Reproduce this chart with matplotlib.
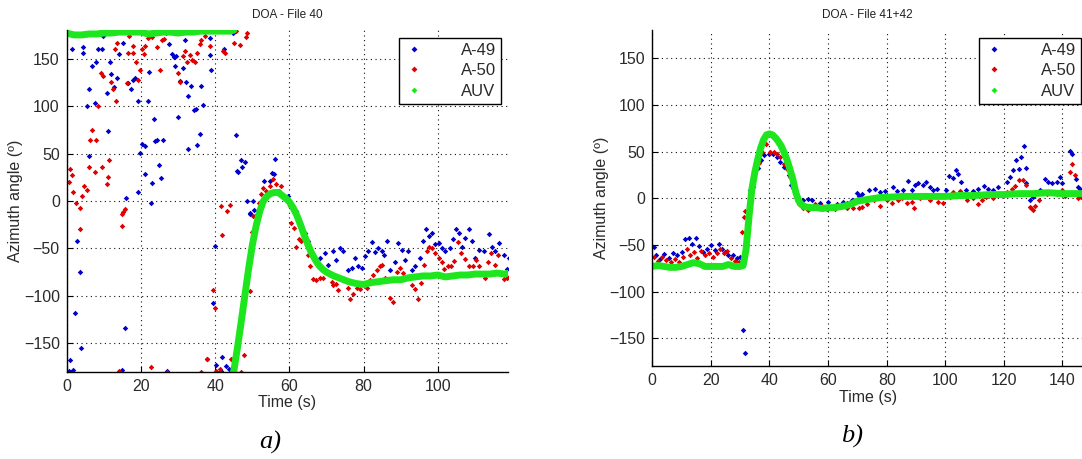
import numpy as np
import matplotlib
matplotlib.use("Agg")
import matplotlib.pyplot as plt
from matplotlib.lines import Line2D

plt.rcParams['font.family'] = ['Liberation Sans', 'DejaVu Sans']

# ---------------- data: panel a) DOA - File 40 ----------------
a49_a_t = [0.6,0.9,1.35,1.8,2.3,2.7,3.5,3.8,4.5,4.5,5.4,5.9,6.1,6.7,7.6,7.8,8.3,9.4,9.9,10.8,11.2,11.7,11.9,12.8,13.5,14.1,15.0,15.3,15.7,16.0,16.6,17.3,18.0,18.5,19.1,19.3,19.8,20.3,21.1,21.2,21.8,22.1,22.7,22.9,23.6,23.9,24.3,25.0,25.4,26.0,26.9,27.6,28.3,28.8,29.2,29.5,30.1,30.4,31.3,32.0,32.2,32.6,32.8,33.5,34.2,34.9,35.0,35.8,36.2,36.8,37.8,38.5,38.7,38.9,39.3,40.0,40.1,41.6,41.8,42.5,43.0,43.7,44.8,44.8,45.5,45.9,46.1,47.0,47.2,47.6,48.1,48.5,49.3,49.5,50.2,50.6,53.3,54.7,55.3,55.9,56.2,59.5,61.0,61.7,62.2,63.2,64.1,64.9,67.3,68.2,69.5,70.5,71.8,72.7,73.6,74.5,75.9,76.8,77.8,78.6,79.5,80.4,81.3,82.2,83.1,84.0,84.9,85.6,86.2,87.1,88.5,89.4,90.3,91.2,92.1,93.0,93.9,95.2,96.1,96.8,97.5,98.4,99.3,100.2,101.1,102.0,103.3,104.2,104.9,105.6,106.5,107.4,108.3,109.2,110.1,111.0,112.4,113.7,114.6,115.5,116.4,117.8,118.6,119.1]
a49_a_v = [-179,-168,160,-178,-118,-42,-75,-155,156,162,100,47,118,142,103,147,160,160,174,114,74,147,134,120,130,155,-178,167,-134,3,124,118,127,130,105,10,51,60,28,58,105,136,-2,19,86,63,64,38,24,64,-179,165,155,152,142,153,88,126,140,170,125,111,55,121,96,97,59,71,121,101,-167,172,154,138,-107,-47,-173,-179,-164,160,-174,-177,177,-166,70,32,31,43,36,-106,41,0,-14,-13,0,-10,21,21,29,28,44,5,-9,-11,-18,-25,-34,-42,-64,-60,-55,-67,-53,-62,-50,-53,-73,-71,-60,-69,-71,-58,-53,-43,-54,-50,-53,-57,-42,-73,-64,-44,-52,-62,-53,-73,-69,-60,-42,-29,-37,-34,-45,-44,-50,-53,-50,-40,-30,-34,-48,-39,-30,-42,-60,-52,-53,-35,-49,-53,-44,-57,-72,-60]

a50_a_t = [0.6,0.8,1.3,1.8,2.4,3.5,3.6,4.2,4.7,5.4,6.0,6.3,6.7,7.6,7.8,8.5,9.2,9.4,9.9,10.8,11.2,11.5,11.9,12.6,13.0,13.2,13.5,14.1,14.8,15.0,15.3,15.7,16.2,16.4,16.8,17.8,18.0,18.6,19.1,19.8,20.3,20.7,21.2,21.8,22.7,22.9,24.3,25.2,25.7,26.3,26.8,26.9,27.4,29.9,30.5,31.3,31.9,32.4,33.1,33.7,34.6,35.1,35.8,36.2,36.2,37.3,37.8,38.5,38.7,39.4,40.0,40.3,41.2,41.6,41.8,42.1,42.7,43.2,44.1,44.3,45.2,45.7,46.8,47.0,47.7,48.4,48.6,49.3,49.9,50.2,50.8,51.7,52.4,52.9,53.8,54.7,55.6,56.5,57.1,57.8,60.1,60.5,61.3,61.9,62.5,63.2,64.9,65.5,66.4,67.3,68.2,69.1,71.4,71.8,72.7,73.1,75.9,76.3,77.2,78.1,79.0,80.8,81.7,82.6,83.5,84.4,84.9,85.8,87.1,88.0,88.9,89.8,90.7,92.1,93.0,93.9,94.6,95.5,96.4,97.0,97.6,98.4,99.3,100.2,101.1,101.8,102.7,103.6,104.5,105.4,106.3,107.2,108.3,109.4,110.3,111.2,112.6,113.5,114.4,115.5,116.2,117.8,118.6,119.3]
a50_a_v = [20,34,27,9,-2,-7,-29,5,16,12,36,64,75,31,64,100,135,36,132,18,25,43,125,118,160,105,167,-179,-14,-26,-12,-8,124,156,174,156,163,147,128,138,160,155,163,172,-175,173,162,138,170,171,177,-180,179,135,125,153,158,147,154,149,147,156,165,170,-180,174,-167,179,163,-94,-113,-179,-177,-5,-36,158,156,-11,-4,-167,167,179,164,-180,-162,173,177,-95,-33,-16,-16,-2,7,14,11,16,23,18,11,16,-5,-23,-28,-48,-40,-42,-57,-69,-82,-83,-81,-81,-85,-89,-87,-94,-92,-103,-98,-92,-93,-92,-83,-78,-73,-69,-67,-81,-102,-106,-75,-71,-76,-81,-89,-93,-103,-86,-67,-53,-48,-50,-55,-60,-64,-72,-69,-69,-63,-43,-55,-61,-69,-69,-62,-69,-81,-64,-55,-67,-57,-82,-81,-80]

auv_a_t = [0,2,4,6,8,10,12,14,16,18,20,22,24,26,28,30,32,34,36,38,40,42,44,45,45,45,46,47,48,49,50,51,52,53,54,55,56,57,58,59,60,61,62,63,64,65,66,67,68,69,70,72,74,76,78,80,82,84,86,88,90,92,94,96,98,100,102,104,106,108,110,112,114,116,118,119]
auv_a_v = [177,175,175,176,176,177,177,178,178,178,178,176,177,178,178,177,178,178,179,179,179,179,179,180,np.nan,-180,-155,-128,-100,-72,-47,-27,-11,0,5,8,9,9,6,3,-1,-7,-15,-25,-36,-46,-55,-62,-68,-72,-75,-79,-82,-85,-87,-88,-86,-85,-84,-83,-83,-81,-80,-79,-79,-78,-80,-79,-78,-78,-77,-77,-77,-76,-77,-76]

# ---------------- data: panel b) DOA - File 41+42 ----------------
a49_b_t = [0.5,1.4,2.7,4.1,5.6,7.0,8.4,10.1,11.3,12.4,13.5,15.0,15.8,17.3,18.6,20.0,21.5,22.6,23.8,24.9,26.0,27.5,28.9,30.0,31.1,31.7,33.4,34.5,36.2,37.0,38.2,39.7,41.1,42.5,43.7,45.0,46.5,47.2,47.9,49.9,51.6,53.3,54.4,57.3,60.1,63.0,65.2,66.4,68.0,69.8,70.4,71.5,73.8,76.1,77.8,79.5,82.3,83.4,85.6,87.4,88.6,89.7,90.8,92.3,93.4,94.8,95.9,97.3,100.2,101.4,102.5,103.6,104.4,105.2,107.0,109.5,111.2,113.2,114.6,116.3,118.0,120.9,122.0,123.2,124.1,125.2,126.0,126.8,127.5,127.7,128.9,130.0,132.2,134.0,135.1,136.3,138.0,139.1,139.7,142.7,143.4,144.5,145.3,146.1]
a49_b_v = [-52,-61,-65,-60,-64,-59,-61,-58,-44,-42,-49,-42,-51,-58,-54,-50,-55,-49,-54,-57,-61,-61,-64,-63,-141,-166,9,12,32,41,46,48,47,44,39,34,25,14,11,-2,-2,-1,-2,-5,-4,-6,-4,-5,-2,6,3,5,9,10,7,8,12,8,9,19,9,14,16,14,18,12,9,10,9,24,22,30,26,18,9,8,10,13,10,9,12,18,23,30,41,31,44,56,33,16,-2,1,9,21,18,16,18,23,16,51,48,21,12,10]

a50_b_t = [0.5,1.8,3.3,4.8,6.4,7.8,9.2,10.4,11.8,12.9,14.3,15.2,16.5,18.0,19.5,20.8,22.0,23.1,24.5,25.6,26.8,28.3,29.7,30.6,31.4,31.7,32.3,36.5,37.5,38.9,40.2,41.4,42.5,43.7,44.8,45.9,47.0,48.2,49.9,51.6,53.3,55.6,57.9,59.5,62.4,64.1,66.4,68.6,70.4,71.5,73.3,75.5,77.8,80.0,81.7,84.0,85.1,86.8,88.6,89.2,91.4,93.1,94.8,97.6,99.3,101.6,102.7,105.0,107.3,109.5,111.2,112.4,114.0,116.3,118.6,120.9,122.6,123.7,125.2,126.6,127.7,128.9,129.1,129.8,130.7,131.9,133.3,134.6,136.3,138.0,139.7,140.9,142.6,143.4,144.2,145.3,146.4]
a50_b_v = [-63,-67,-63,-66,-68,-65,-68,-63,-54,-61,-58,-64,-56,-61,-59,-63,-59,-54,-59,-56,-64,-67,-68,-36,-20,-14,-27,38,50,58,50,50,48,44,37,31,23,12,-6,-10,-12,-6,-8,-11,-11,-9,-10,-10,-10,-9,-6,-2,-8,-2,-5,-2,0,-5,-4,-10,0,2,-2,-4,-5,1,7,8,-2,0,-6,-2,1,0,4,7,10,13,20,20,14,-9,-10,-13,-8,-2,7,5,7,5,9,2,28,37,25,0,1]

auv_b_t = [0,2,4,6,8,10,12,14,16,18,20,22,24,26,28,30,31,32,33,34,35,36,37,38,39,40,41,42,43,44,45,46,47,48,49,50,51,52,54,56,58,60,62,64,66,68,70,72,74,76,78,80,85,90,95,100,105,110,115,120,125,130,135,140,145,147]
auv_b_v = [-73,-72,-73,-74,-74,-73,-71,-69,-70,-73,-73,-73,-73,-71,-73,-73,-72,-55,-20,10,28,42,54,63,68,69,68,65,61,56,49,41,31,20,6,-3,-7,-9,-10,-10,-11,-10,-10,-9,-8,-6,-3,-2,-1,0,1,1,2,2,2,2,3,3,4,4,5,5,6,5,5,5]

yticks = [-150, -100, -50, 0, 50, 100, 150]
xticks_a = [0, 20, 40, 60, 80, 100]
xticks_b = [0, 20, 40, 60, 80, 100, 120, 140]
labels = ['A-49', 'A-50', 'AUV']
titles = ['DOA - File 40', 'DOA - File 41+42']
captions = ['a)', 'b)']

C_BLUE = '#0000cc'
C_RED = '#e00000'
C_GREEN = '#1ee61e'

W, H = 1082, 459
fig = plt.figure(figsize=(W / 100, H / 100), dpi=100)

def px_axes(x0, y0, x1, y1):
    return fig.add_axes([x0 / W, 1 - y1 / H, (x1 - x0) / W, (y1 - y0) / H])

ax_a = px_axes(66.7, 30.2, 508.3, 371.8)
ax_b = px_axes(652.3, 30.3, 1083.0, 366.3)

panels = [
    (ax_a, a49_a_t, a49_a_v, a50_a_t, a50_a_v, auv_a_t, auv_a_v, (0, 119), xticks_a),
    (ax_b, a49_b_t, a49_b_v, a50_b_t, a50_b_v, auv_b_t, auv_b_v, (0, 147), xticks_b),
]

for i, (ax, t1, v1, t2, v2, t3, v3, xl, xt) in enumerate(panels):
    ax.plot(t1, v1, linestyle='none', marker='D', ms=2.8, mew=0, color=C_BLUE)
    ax.plot(t2, v2, linestyle='none', marker='D', ms=2.8, mew=0, color=C_RED)
    ax.plot(t3, v3, linestyle='-', lw=5.0, color=C_GREEN, solid_capstyle='round',
            solid_joinstyle='round')
    ax.set_xlim(*xl)
    ax.set_ylim(-180, 180)
    ax.set_xticks(xt)
    ax.set_yticks(yticks)
    ax.grid(True, color='#111111', linestyle=(0, (1, 3.2)), linewidth=0.8)
    ax.set_axisbelow(True)
    for s in ['top', 'right']:
        ax.spines[s].set_visible(False)
    for s in ['left', 'bottom']:
        ax.spines[s].set_linewidth(1.0)
        ax.spines[s].set_color('black')
    ax.tick_params(direction='in', length=4, width=0.8, labelsize=11.5,
                   labelcolor='#2a2a2a', pad=5)
    ax.set_title(titles[i], fontsize=8.5, color='#222222', pad=9)
    ax.set_xlabel('Time (s)', fontsize=11.5, color='#2a2a2a', labelpad=1)
    ax.set_ylabel('Azimuth angle (º)', fontsize=11.5, color='#2a2a2a', labelpad=2)
    handles = [
        Line2D([], [], linestyle='none', marker='D', ms=3, mew=0, color=C_BLUE),
        Line2D([], [], linestyle='none', marker='D', ms=3, mew=0, color=C_RED),
        Line2D([], [], linestyle='none', marker='D', ms=3, mew=0, color=C_GREEN),
    ]
    leg = ax.legend(handles, labels, loc='upper right', fontsize=12,
                    frameon=True, fancybox=False, framealpha=1, edgecolor='black',
                    handlelength=1.2, handletextpad=2.2, labelspacing=0.32,
                    borderpad=0.3, borderaxespad=0,
                    bbox_to_anchor=((501 if i == 0 else 1081) / W, 1 - 38 / H),
                    bbox_transform=fig.transFigure)
    leg.get_frame().set_linewidth(1.0)
    for txt in leg.get_texts():
        txt.set_color('#2a2a2a')

ax_a.yaxis.set_label_coords(-0.1, 0.5)
ax_b.yaxis.set_label_coords(-0.1, 0.5)

fig.text(270 / W, 1 - 442 / H, captions[0], fontsize=19, style='italic',
         family=['Liberation Serif', 'DejaVu Serif'], ha='center', va='center', color='black')
fig.text(852 / W, 1 - 436 / H, captions[1], fontsize=19, style='italic',
         family=['Liberation Serif', 'DejaVu Serif'], ha='center', va='center', color='black')

fig.savefig('out.png', dpi=100)
